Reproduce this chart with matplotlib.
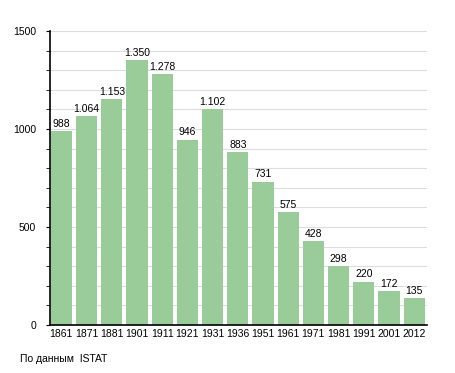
import numpy as np
import matplotlib
matplotlib.use('Agg')
from matplotlib import pyplot as plt

years = ['1861', '1871', '1881', '1901', '1911', '1921', '1931', '1936',
         '1951', '1961', '1971', '1981', '1991', '2001', '2012']
population = [988, 1064, 1153, 1350, 1278, 946, 1102, 883,
              731, 575, 428, 298, 220, 172, 135]
labels = ['988', '1.064', '1.153', '1.350', '1.278', '946', '1.102', '883',
          '731', '575', '428', '298', '220', '172', '135']

plt.rcParams['font.family'] = ['Liberation Sans', 'DejaVu Sans']

fig = plt.figure(figsize=(4.55, 3.73), dpi=100)
ax = fig.add_axes([0.11, 0.129, 0.828, 0.788])

x = np.arange(len(years))
ax.bar(x, population, width=0.84, color='#99cc99', zorder=2)
for xi, v, lab in zip(x, population, labels):
    ax.text(xi, v + 12, lab, ha='center', va='bottom', fontsize=7.5, zorder=3)

ax.set_xlim(-0.45, len(years) - 0.5)
ax.set_ylim(0, 1500)
ax.set_yticks([0, 500, 1000, 1500])
ax.set_yticks(np.arange(0, 1501, 100), minor=True)
ax.yaxis.grid(True, which='both', color='#dddddd', linewidth=0.8, zorder=0)
ax.set_xticks(x)
ax.set_xticklabels(years, fontsize=7.5)
ax.tick_params(axis='x', length=0, pad=3)
ax.tick_params(axis='y', which='both', length=3, labelsize=7.5, pad=7)

for s in ['top', 'right']:
    ax.spines[s].set_visible(False)
ax.spines['left'].set_linewidth(1.2)
ax.spines['bottom'].set_linewidth(1.2)

fig.text(0.044, 0.03, 'По данным  ISTAT', fontsize=7.5)

fig.savefig('out.png', dpi=100)
